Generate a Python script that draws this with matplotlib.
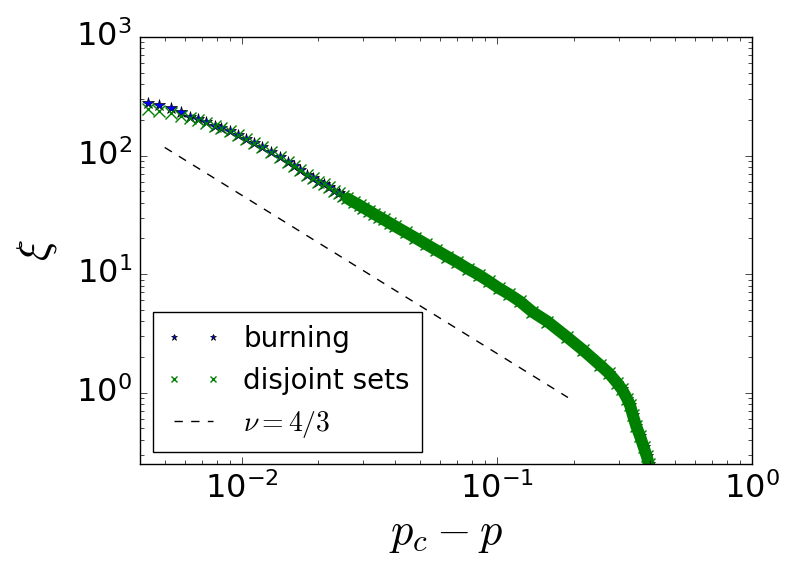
import matplotlib
matplotlib.use("Agg")
import matplotlib.pyplot as plt

plt.style.use("classic")

# pc - p values (x)
x_left = [0.0043, 0.00476, 0.00527, 0.00577, 0.00629, 0.00675, 0.00728, 0.00784, 0.00832,
          0.0090, 0.0097, 0.0104, 0.0112, 0.0120, 0.0130, 0.0141, 0.0152]
burning_left = [277, 268, 250, 231, 213, 202, 190, 179, 170,
                160, 149, 138, 128, 119, 108, 98, 89]
disjoint_left = [248, 239, 227, 217, 207, 198, 188, 178, 170,
                 160, 149, 138, 128, 119, 108, 98, 89]

x_right = [0.016, 0.017, 0.018, 0.019, 0.020, 0.021, 0.022, 0.023, 0.024, 0.025,
           0.026, 0.0275, 0.029, 0.030, 0.0315, 0.033, 0.0345, 0.036, 0.038,
           0.040, 0.044, 0.048, 0.053, 0.058, 0.064, 0.070, 0.077, 0.085, 0.093,
           0.102, 0.112, 0.123, 0.138, 0.158, 0.188, 0.217, 0.253, 0.275, 0.296,
           0.309, 0.324, 0.333, 0.341, 0.352, 0.364, 0.376, 0.387, 0.394]
xi_right = [82, 76, 69, 65, 60, 57, 54, 50.7, 48, 45.6,
            43.5, 40.5, 38, 36.3, 34.3, 32.2, 30.5, 28.9, 27.0,
            25.3, 22.5, 20.2, 17.8, 15.9, 14.05, 12.6, 11.1, 9.85, 8.7,
            7.6, 6.75, 5.9, 4.8, 3.98, 2.96, 2.30, 1.72, 1.46, 1.21,
            1.07, 0.89, 0.78, 0.65, 0.52, 0.43, 0.35, 0.29, 0.25]

# nu = 4/3 guide line endpoints
nu_x = [0.005, 0.19]
nu_y = [117, 0.91]

x_all = x_left + x_right
burning = burning_left + xi_right
disjoint = disjoint_left + xi_right

fig = plt.figure(figsize=(8.01, 5.75), dpi=100)
ax = fig.add_axes([140/801, 1-464/575, 612/801, 427/575])

ax.plot(x_all, burning, linestyle="none", marker="*", color="b", markersize=9,
        label="burning")
ax.plot(x_all, disjoint, linestyle="none", marker="x", color="g", markersize=8,
        markeredgewidth=1.0, label="disjoint sets")
# dense band of the disjoint-sets data
band_x = x_right[10:]
band_y = xi_right[10:]
ax.plot(band_x, band_y, linestyle="-", color="g", linewidth=8.5,
        solid_capstyle="round", solid_joinstyle="round", label="_nolegend_")
ax.plot(nu_x, nu_y, "k--", linewidth=1.0, label=r"$\nu=4/3$")

ax.set_xscale("log")
ax.set_yscale("log")
ax.set_xlim(0.004, 1)
ax.set_ylim(0.25, 1000)

ax.tick_params(axis="both", which="major", labelsize=23, size=5, pad=6)
ax.tick_params(axis="both", which="minor", size=3)

ax.set_xlabel(r"$p_c-p$", fontsize=32)
ax.set_ylabel(r"$\xi$", fontsize=32, labelpad=12)

leg = ax.legend(loc="lower left", bbox_to_anchor=(13/612, 12/427), borderaxespad=0,
                fontsize=20, numpoints=2, markerscale=0.55, handlelength=2.0,
                handletextpad=0.8, labelspacing=0.5, borderpad=0.45, fancybox=False)
leg.get_frame().set_linewidth(1.0)

fig.savefig("out.png", dpi=100)
